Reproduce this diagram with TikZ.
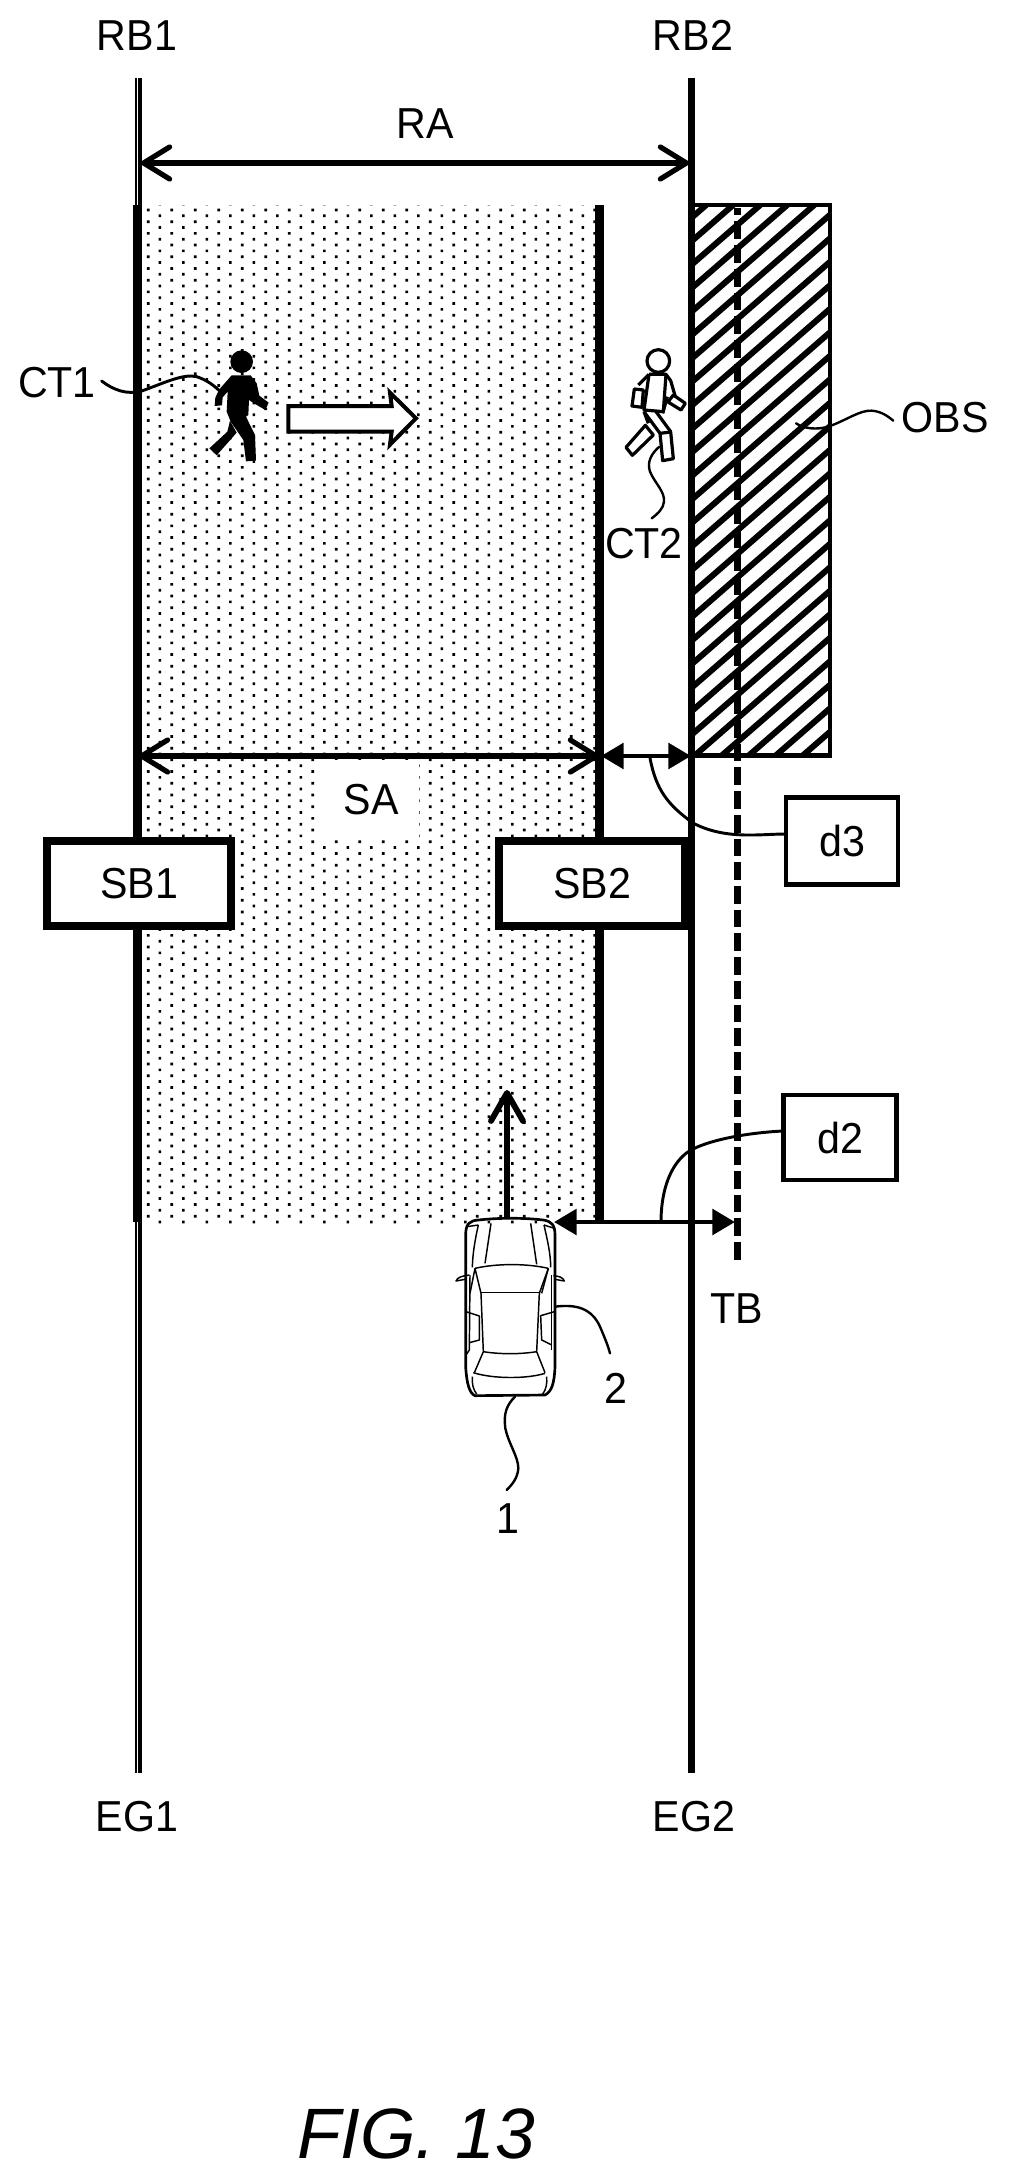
\documentclass[tikz,border=0pt]{standalone}
\usepackage{fontspec}
\setmainfont{Liberation Sans}
\newfontfamily\lablefont[FakeStretch=0.95]{Liberation Sans}
\usetikzlibrary{arrows.meta}
\tikzset{
  lab/.style={anchor=base,inner sep=0pt,outer sep=0pt,font=\lablefont\fontsize{32.5}{36}\selectfont},
  boldbox/.style={draw,fill=white,line width=6pt,inner sep=0pt,outer sep=0pt,minimum width=138pt,minimum height=63.75pt,font=\lablefont\fontsize{32.5}{36}\selectfont},
  thinbox/.style={draw,fill=white,line width=3.4pt,inner sep=0pt,outer sep=0pt,minimum width=85pt,minimum height=64pt,font=\lablefont\fontsize{32.5}{36}\selectfont},
  thick line/.style={line width=6.4pt},
  road line/.style={line width=5pt},
  leader/.style={line width=2.2pt,line cap=round},
  open arrow/.style={line width=3.9pt,{Straight Barb[length=19.5pt,width=24pt,round]}-{Straight Barb[length=19.5pt,width=24pt,round]}},
  solid arrow/.style={line width=3.6pt,{Triangle[length=17pt,width=19pt]}-{Triangle[length=17pt,width=19pt]}},
  up arrow/.style={line width=4.4pt,-{Straight Barb[length=21pt,width=24pt,round]}},
  figure/.style={line width=2.4pt,line join=round},
  carline/.style={line width=1.1pt,line join=round},
}
\begin{document}
\begin{tikzpicture}[x=.75pt,y=-.75pt]
\useasboundingbox[fill=white] (0,0) rectangle (1009,2180);
% anchors
\coordinate (ral) at (141,163); \coordinate (rar) at (689,163);
\coordinate (sal) at (139,756); \coordinate (sar) at (599,756);
\coordinate (d3l) at (601,756); \coordinate (d3r) at (691,756);
\coordinate (d2l) at (554,1222); \coordinate (d2r) at (735,1222);
\coordinate (carf) at (507,1218); \coordinate (cart) at (507,1090);
% stipple
\begin{scope}
\clip (141,205) rectangle (596,1226);
\path[fill=black] foreach \k in {0,...,87}{ foreach \i in {0,...,19}{
   (146.8+23.5*\i,1214.8-11.7*\k) rectangle +(2.7,2.7)
   (158.5+23.5*\i,1220.6-11.7*\k) rectangle +(2.7,2.7) } };
\end{scope}
\fill[white] (316,760) rectangle (419,840);
% road edges
\draw[line width=1.5pt] (136,78) -- (136,1773);
\draw[line width=2.6pt] (140,78) -- (140,1773);
\draw[road line] (691.5,78) -- (691.5,1773);
\draw[thick line] (137,205) -- (137,1222);
\draw[thick line] (599.5,205) -- (599.5,1222);
% obstacle
\begin{scope}
\clip (691.5,205) rectangle (830,755.5);
\foreach \k in {-26,...,7}
  \draw[line width=4.5pt] (680,791.8+23.5*\k) -- (840,652.6+23.5*\k);
\end{scope}
\draw[line width=3.4pt] (691.5,205) rectangle (830,755.5);
% target boundary
\draw[line width=4.9pt,dash pattern=on 13.3pt off 4.5pt,dash phase=7.7pt] (737.5,208) -- (737.5,1264);
% dimension arrows
\draw[open arrow] (ral) -- (rar);
\draw[open arrow] (sal) -- (sar);
\draw[solid arrow] (d3l) -- (d3r);
\draw[solid arrow] (d2l) -- (d2r);
\draw[up arrow] (carf) -- (cart);
% boxes
\node[boldbox] (sb1) at (139,883.5) {SB1};
\node[boldbox,minimum width=139.5pt] (sb2) at (592,883.5) {SB2};
\node[thinbox,minimum width=84pt,minimum height=65pt] (d3) at (842,841) {d3};
\node[thinbox] (d2) at (840,1137.5) {d2};
% labels
\node[lab] at (137,51) {RB1};
\node[lab] at (693,51) {RB2};
\node[lab] at (425,139) {RA};
\node[lab] (ct1) at (57,397) {CT1};
\node[lab] (ct2) at (644,558) {CT2};
\node[lab] (obs) at (945,432) {OBS};
\node[lab] at (371,814) {SA};
\node[lab] at (737,1323) {TB};
\node[lab] at (616,1403) {2};
\node[lab] at (508,1533) {1};
\node[lab] at (137,1831) {EG1};
\node[lab] at (694,1831) {EG2};
\node[anchor=base,inner sep=0pt,font=\fontsize{53.5}{60}\selectfont\itshape] at (416,2158) {FIG. 13};
% leaders
\draw[leader] (d3.west |- 0,834) .. controls (760,834) and (725,840) .. (693,823) .. controls (668,805) and (656,790) .. (650,758);
\draw[leader] (d2.west |- 0,1131) .. controls (740,1133) and (695,1143) .. (683,1156) .. controls (668,1170) and (661,1195) .. (661,1222);
% walking person CT1
\begin{scope}[shift={(100,300)},x=.25pt,y=-.25pt]
\draw[leader] (5,243) .. controls (40,270) and (80,285) .. (125,273) .. controls (190,250) and (250,220) .. (290,230) .. controls (320,240) and (340,255) .. (358,272);
\fill (425,185) circle[radius=34];
\fill (395,226) -- (452,226) -- (470,250) -- (478,287) -- (506,308) -- (496,330) -- (462,310) -- (447,300) -- (445,345) -- (438,350) -- (465,405) -- (468,482) -- (438,484) -- (430,420) -- (392,365) -- (380,335) -- (383,275) -- (368,292) -- (366,316) -- (344,318) -- (346,293) -- (358,268) -- cycle;
\fill (390,362) -- (410,398) -- (350,466) -- (328,445) -- (382,395) -- cycle;
\draw[line width=3pt,fill=white,line join=miter] (565,318) -- (875,318) -- (870,278) -- (948,355) -- (870,434) -- (875,395) -- (565,395) -- cycle;
\end{scope}
% standing person CT2 and leaders
\begin{scope}[shift={(580,190)},x=.25pt,y=-.25pt]
\draw[figure] (235,513) circle[radius=34];
\draw[figure] (207,553) -- (258,553) -- (272,572) -- (286,620);
\draw[figure] (207,553) -- (192,660) -- (250,665) -- (258,553);
\draw[figure] (207,553) -- (175,585);
\draw[figure] (163,597) -- (190,600) -- (186,652) -- (156,648) -- cycle;
\draw[figure] (280,615) -- (316,640) -- (303,660) -- (264,636) -- cycle;
\draw[figure] (262,620) -- (248,670);
\draw[figure] (192,665) -- (240,730);
\draw[figure] (228,665) -- (272,725);
\draw[figure] (240,730) -- (272,726) -- (280,806) -- (248,812) -- cycle;
\draw[figure] (196,706) -- (220,735) -- (157,796) -- (138,772) -- cycle;
\draw[figure] (192,665) -- (205,700);
\draw[leader,line width=1.8pt] (238,770) .. controls (215,790) and (200,815) .. (210,845) .. controls (225,880) and (255,905) .. (252,935) .. controls (250,955) and (235,970) .. (215,985);
\draw[leader,line width=1.8pt] (648,700) .. controls (670,715) and (710,722) .. (750,708) .. controls (800,690) and (840,660) .. (875,662) .. controls (905,664) and (925,680) .. (940,692);
\end{scope}
% car
\begin{scope}[shift={(420,1180)},x=.25pt,y=-.25pt]
\draw[line width=2pt,line join=round] (137,165) .. controls (137,130) and (150,122) .. (175,120) .. controls (240,113) and (310,113) .. (370,120) .. controls (395,124) and (405,135) .. (405,165) -- (405,560) .. controls (403,610) and (395,635) .. (375,645) -- (165,647) .. controls (148,640) and (140,610) .. (137,560) -- cycle;
\draw[carline] (165,265) .. controls (230,250) and (320,250) .. (385,265);
\draw[carline] (213,130) -- (195,250); \draw[carline] (332,130) -- (350,253);
\draw[carline] (175,135) .. controls (165,180) and (158,220) .. (157,262);
\draw[carline] (372,135) .. controls (382,180) and (392,220) .. (392,262);
\draw[carline] (140,140) -- (175,135); \draw[carline] (372,135) -- (403,145);
\draw[carline] (165,265) -- (183,340) -- (190,515) -- (163,578);
\draw[carline] (385,265) -- (358,340) -- (350,515) -- (375,578);
\draw[carline] (183,338) -- (358,338);
\draw[carline] (190,515) .. controls (240,523) and (300,523) .. (350,515);
\draw[carline] (160,578) .. controls (220,597) and (320,597) .. (375,580);
\draw[carline] (157,590) .. controls (155,610) and (160,630) .. (170,642);
\draw[carline] (380,590) .. controls (382,610) and (378,630) .. (368,642);
\draw[carline] (148,285) .. controls (125,288) and (112,292) .. (108,303) -- (135,298);
\draw[carline] (400,287) .. controls (415,288) and (430,292) .. (433,303) -- (405,298);
\draw[carline] (150,285) -- (148,510) -- (138,525);
\draw[carline] (395,285) -- (395,510);
\draw[carline] (165,265) -- (150,340); \draw[carline] (385,265) -- (365,340);
\draw[carline] (138,395) -- (178,408) -- (178,480) -- (148,488);
\draw[carline] (403,395) -- (362,407) -- (365,480) -- (395,495);
\draw[leader,line width=1.8pt] (405,380) .. controls (470,372) and (515,385) .. (540,440) .. controls (555,475) and (565,500) .. (570,520);
\draw[leader,line width=1.8pt] (285,650) .. controls (260,675) and (250,700) .. (256,745) .. controls (265,790) and (295,830) .. (295,865) .. controls (293,895) and (275,915) .. (260,930);
\end{scope}
\end{tikzpicture}
\end{document}
